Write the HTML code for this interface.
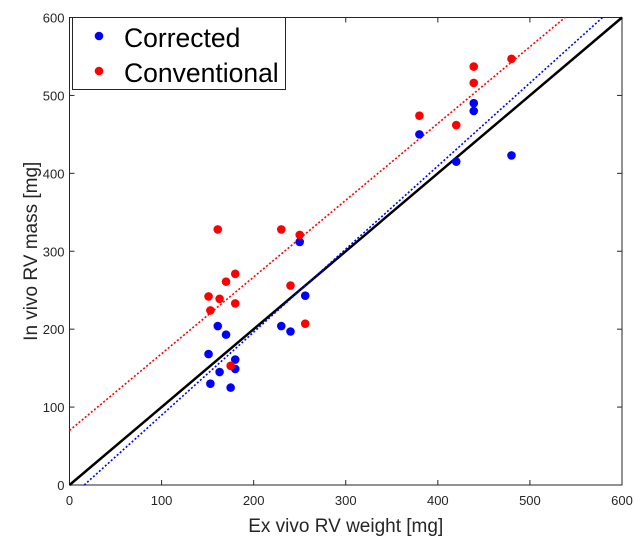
<!DOCTYPE html>
<html><head><meta charset="utf-8"><style>
body{margin:0;background:#fff;}
svg{display:block;font-family:"Liberation Sans",Arial,sans-serif;}
</style></head><body>
<svg id="chart" width="635" height="541" xmlns="http://www.w3.org/2000/svg">
<rect width="635" height="541" fill="#fff"/>
<g id="plot"></g>
</svg>
<script>
const correctedX=[161,170,230,240,250,256,151,180,163,180,153,175,439,439,380,420,480];
const correctedY=[204,193,204,197,312,243,168,161,145,149,130,125,490,480,450,415,423];
const conventionalX=[161,230,250,180,170,151,163,180,153,240,256,175,480,439,439,380,420];
const conventionalY=[328,328,321,271,261,242,239,233,224,256,207,153,547,537,516,474,462];
const ticks=[0,100,200,300,400,500,600];
const fitRed=[0.985,70];
const fitBlue=[1.066,-17];
const X0=69.5,X1=622,Y0=485,Y1=17.5;
const sx=v=>X0+(v/600)*(X1-X0);
const sy=v=>Y0-(v/600)*(Y0-Y1);
const NS="http://www.w3.org/2000/svg";
const g=document.getElementById('plot');
function mk(t,a,p){const e=document.createElementNS(NS,t);for(const k in a)e.setAttribute(k,a[k]);(p||g).appendChild(e);return e;}
const box=mk('rect',{x:X0,y:Y1,width:X1-X0,height:Y0-Y1,fill:'none',stroke:'#262626','stroke-width':1});


ticks.forEach(t=>{
  const a=mk('line',{x1:sx(t),x2:sx(t),y1:Y0,y2:Y0-5,stroke:'#262626'});
  
  
  mk('line',{x1:sx(t),x2:sx(t),y1:Y1,y2:Y1+5,stroke:'#262626'});
  const b=mk('line',{x1:X0,x2:X0+5,y1:sy(t),y2:sy(t),stroke:'#262626'});
  
  
  mk('line',{x1:X1,x2:X1-5,y1:sy(t),y2:sy(t),stroke:'#262626'});
  const tx=mk('text',{x:sx(t),y:Y0+20,'text-anchor':'middle','font-size':13,fill:'#262626'});
  tx.textContent=t;
  
  
  const ty=mk('text',{x:X0-5,y:sy(t)+5,'text-anchor':'end','font-size':13,fill:'#262626'});
  ty.textContent=t;
  
  
});
function fitLine(f,color,name){
  let xa=Math.max(0,-f[1]/f[0]),xb=Math.min(600,(600-f[1])/f[0]);
  const l=mk('line',{x1:sx(xa),y1:sy(f[0]*xa+f[1]),x2:sx(xb),y2:sy(f[0]*xb+f[1]),stroke:color,'stroke-width':1.6,'stroke-dasharray':'2 2'});
  
  
}
const id=mk('line',{x1:sx(0),y1:sy(0),x2:sx(600),y2:sy(600),stroke:'#000','stroke-width':2.5});


fitLine(fitBlue,'#0000ff','corrected-fit-line');
fitLine(fitRed,'#ff0000','conventional-fit-line');
correctedX.forEach((x,i)=>{
  const c=mk('circle',{cx:sx(x),cy:sy(correctedY[i]),r:4.3,fill:'#0000ff'});
  
  
});
conventionalX.forEach((x,i)=>{
  const c=mk('circle',{cx:sx(x),cy:sy(conventionalY[i]),r:4.3,fill:'#ff0000'});
  
  
});
const lg=mk('g',{});


mk('rect',{x:72.5,y:17.5,width:213,height:72,fill:'#fff',stroke:'#262626'},lg);
mk('circle',{cx:99,cy:36,r:4.3,fill:'#0000ff'},lg);
mk('circle',{cx:99,cy:71,r:4.3,fill:'#ff0000'},lg);
const t1=mk('text',{x:124,y:47,'font-size':26.5,fill:'#000'},lg);t1.textContent='Corrected';


const t2=mk('text',{x:124,y:82,'font-size':26.5,fill:'#000'},lg);t2.textContent='Conventional';


const xt=mk('text',{x:(X0+X1)/2,y:532,'text-anchor':'middle','font-size':19,fill:'#262626'});
xt.textContent='Ex vivo RV weight [mg]';


const yt=mk('text',{x:0,y:0,'text-anchor':'middle','font-size':19,fill:'#262626',transform:`translate(37,${(Y0+Y1)/2}) rotate(-90)`});
yt.textContent='In vivo RV mass [mg]';


</script>
</body></html>
